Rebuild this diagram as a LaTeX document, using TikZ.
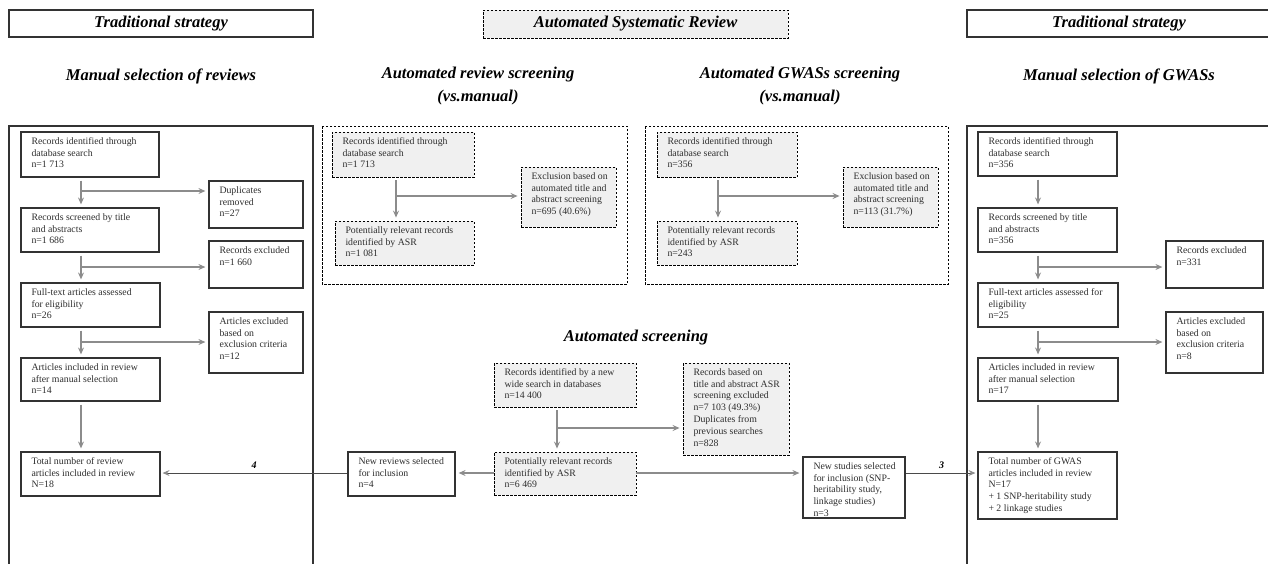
\documentclass[tikz,border=0pt]{standalone}
\usepackage{fontspec}
\setmainfont{Liberation Serif}
\usetikzlibrary{arrows.meta,calc}
\definecolor{arrgray}{HTML}{8C8C8C}
\definecolor{boxline}{HTML}{333333}
\definecolor{txt}{HTML}{2E2E2E}
\definecolor{fillgray}{HTML}{F0F0F0}
\definecolor{conn}{HTML}{4A4A4A}
\newcommand\bodyfont{\fontsize{9.8}{11.8}\selectfont}
\newcommand\titlefont{\fontsize{16.5}{23}\selectfont\bfseries\itshape}
\newcommand\flowbox[7]{%
  \pgfmathsetmacro\fbW{#5-#3}%
  \pgfmathsetmacro\fbH{#6-#4}%
  \node[#1, minimum width=\fbW pt, minimum height=\fbH pt, inner sep=0pt] (#2) at ({(#3+#5)/2},{(#4+#6)/2})
   {\vbox to \dimexpr\fbH pt-8pt\relax{\hbox to \fbW pt{\hspace{10.5pt}\begin{tabular}[t]{@{}l@{}}#7\end{tabular}\hss}\vss}};%
}
\tikzset{
  solidbox/.style={draw=boxline, line width=1.2pt, fill=white, font=\bodyfont, text=txt},
  dashbox/.style={draw=black, line width=0.9pt, dash pattern=on 2.5pt off 1.5pt, fill=fillgray, font=\bodyfont, text=txt},
  hdrsolid/.style={draw=boxline, line width=1.2pt, fill=white, font=\titlefont, text=black, inner sep=0pt},
  hdrdash/.style={draw=black, line width=0.9pt, dash pattern=on 2.5pt off 1.5pt, fill=fillgray, font=\titlefont, text=black, inner sep=0pt},
  titletext/.style={font=\titlefont, text=black, align=center, inner sep=0pt},
  numlabel/.style={font=\fontsize{10}{12}\selectfont\bfseries\itshape, text=black, inner sep=1pt},
  arr/.style={draw=arrgray, line width=1.1pt, shorten >=3pt, -{Stealth[length=7pt,width=6pt,inset=2.5pt]}},
  vert/.style={arr, shorten <=3pt},
  longconn/.style={draw=conn, line width=0.9pt, shorten >=2pt, -{Stealth[length=7pt,width=6pt,inset=2.5pt,color=arrgray]}},
  panelsolid/.style={draw=boxline, line width=1.3pt},
  paneldash/.style={draw=black, line width=0.9pt, dash pattern=on 2.5pt off 1.5pt},
}
\begin{document}
\begin{tikzpicture}[x=1pt,y=-1pt]
\useasboundingbox[fill=white] (0,0) rectangle (1268,563);

% headers
\node[hdrsolid, minimum width=304pt, minimum height=27pt] (h1) at (161,23.5) {Traditional strategy};
\node[hdrdash, minimum width=305pt, minimum height=28pt] (h2) at (635.5,24) {Automated Systematic Review};
\node[hdrsolid, minimum width=304pt, minimum height=27pt] (h3) at (1119,23.5) {Traditional strategy};

% subtitles
\node[titletext] (s1) at (161,76) {Manual selection of reviews};
\node[titletext] (s2) at (478,86.5) {Automated review screening\\(vs.manual)};
\node[titletext] (s3) at (800,86.5) {Automated GWASs screening\\(vs.manual)};
\node[titletext] (s4) at (1119,76) {Manual selection of GWASs};
\node[titletext] (s5) at (636,338) {Automated screening};

% panels
\draw[panelsolid] (9,566) -- (9,126) -- (313,126) -- (313,566);
\draw[paneldash] (322,126) rectangle (627,284);
\draw[paneldash] (645,126) rectangle (948,284);
\draw[panelsolid] (967,566) -- (967,126) -- (1272,126) -- (1272,566);

% left panel boxes
\flowbox{solidbox}{l1}{21}{132}{159}{177}{Records identified through\\database search\\n=1 713}
\flowbox{solidbox}{ld}{209}{181}{303}{228}{Duplicates\\removed\\n=27}
\flowbox{solidbox}{l2}{21}{208}{159}{252}{Records screened by title\\and abstracts\\n=1 686}
\flowbox{solidbox}{lx}{209}{241}{303}{288}{Records excluded\\n=1 660}
\flowbox{solidbox}{l3}{21}{283}{160}{327}{Full-text articles assessed\\for eligibility\\n=26}
\flowbox{solidbox}{le}{209}{312}{303}{373}{Articles excluded\\based on\\exclusion criteria\\n=12}
\flowbox{solidbox}{l4}{21}{358}{160}{401}{Articles included in review\\after manual selection\\n=14}
\flowbox{solidbox}{l5}{21}{452}{160}{496}{Total number of review\\articles included in review\\N=18}

% automated review screening
\flowbox{dashbox}{a1}{332}{132}{474}{177}{Records identified through\\database search\\n=1 713}
\flowbox{dashbox}{a2}{521}{167}{616}{227}{Exclusion based on\\automated title and\\abstract screening\\n=695 (40.6\%)}
\flowbox{dashbox}{a3}{335}{221}{474}{265}{Potentially relevant records\\identified by ASR\\n=1 081}

% automated GWAS screening
\flowbox{dashbox}{b1}{657}{132}{797}{177}{Records identified through\\database search\\n=356}
\flowbox{dashbox}{b2}{843}{167}{938}{227}{Exclusion based on\\automated title and\\abstract screening\\n=113 (31.7\%)}
\flowbox{dashbox}{b3}{657}{221}{797}{265}{Potentially relevant records\\identified by ASR\\n=243}

% automated screening
\flowbox{dashbox}{c1}{494}{363}{636}{407}{Records identified by a new\\wide search in databases\\n=14 400}
\flowbox{dashbox}{c2}{683}{363}{789}{455}{Records based on\\title and abstract ASR\\screening excluded\\n=7 103 (49.3\%)\\Duplicates from\\previous searches\\n=828}
\flowbox{dashbox}{c3}{494}{452}{636}{495}{Potentially relevant records\\identified by ASR\\n=6 469}
\flowbox{solidbox}{nr}{348}{452}{455}{496}{New reviews selected\\for inclusion\\n=4}
\flowbox{solidbox}{ns}{803}{457}{905}{518}{New studies selected\\for inclusion (SNP-\\heritability study,\\linkage studies)\\n=3}

% right panel boxes
\flowbox{solidbox}{r1}{978}{132}{1117}{176}{Records identified through\\database search\\n=356}
\flowbox{solidbox}{r2}{978}{208}{1117}{252}{Records screened by title\\and abstracts\\n=356}
\flowbox{solidbox}{r3}{1166}{241}{1263}{288}{Records excluded\\n=331}
\flowbox{solidbox}{r4}{978}{283}{1118}{327}{Full-text articles assessed for\\eligibility\\n=25}
\flowbox{solidbox}{r5}{1166}{312}{1263}{373}{Articles excluded\\based on\\exclusion criteria\\n=8}
\flowbox{solidbox}{r6}{978}{358}{1118}{401}{Articles included in review\\after manual selection\\n=17}
\flowbox{solidbox}{r7}{978}{452}{1117}{519}{Total number of GWAS\\articles included in review\\N=17\\+ 1 SNP-heritability study\\+ 2 linkage studies}

% helper coordinates
\path (81,0) coordinate (xL) (396,0) coordinate (xA) (718,0) coordinate (xB)
      (557,0) coordinate (xC) (1038,0) coordinate (xR)
      (0,191) coordinate (yL1) (0,267) coordinate (yL2) (0,342) coordinate (yL3)
      (0,196) coordinate (yAB) (0,428) coordinate (yC) (0,473) coordinate (yM);

% left panel arrows
\draw[vert] (xL |- l1.south) -- (xL |- l2.north);
\draw[vert] (xL |- l2.south) -- (xL |- l3.north);
\draw[vert] (xL |- l3.south) -- (xL |- l4.north);
\draw[vert] (xL |- l4.south) -- (xL |- l5.north);
\draw[arr] (xL |- yL1) -- (ld.west |- yL1);
\draw[arr] (xL |- yL2) -- (lx.west |- yL2);
\draw[arr] (xL |- yL3) -- (le.west |- yL3);

% middle top arrows
\draw[vert] (xA |- a1.south) -- (xA |- a3.north);
\draw[arr] (xA |- yAB) -- (a2.west |- yAB);
\draw[vert] (xB |- b1.south) -- (xB |- b3.north);
\draw[arr] (xB |- yAB) -- (b2.west |- yAB);

% automated screening arrows
\draw[vert] (xC |- c1.south) -- (xC |- c3.north);
\draw[arr] (xC |- yC) -- (c2.west |- yC);
\draw[arr] (c3.west |- yM) -- (nr.east |- yM);
\draw[arr] (c3.east |- yM) -- (ns.west |- yM);
\draw[longconn] (nr.west |- yM) -- node[numlabel, above=3pt] {4} (l5.east |- yM);
\draw[longconn] (ns.east |- yM) -- node[numlabel, above=3pt, pos=0.5] {3} (r7.west |- yM);

% right panel arrows
\draw[vert] (xR |- r1.south) -- (xR |- r2.north);
\draw[vert] (xR |- r2.south) -- (xR |- r4.north);
\draw[vert] (xR |- r4.south) -- (xR |- r6.north);
\draw[vert] (xR |- r6.south) -- (xR |- r7.north);
\draw[arr] (xR |- yL2) -- (r3.west |- yL2);
\draw[arr] (xR |- yL3) -- (r5.west |- yL3);
\end{tikzpicture}
\end{document}
